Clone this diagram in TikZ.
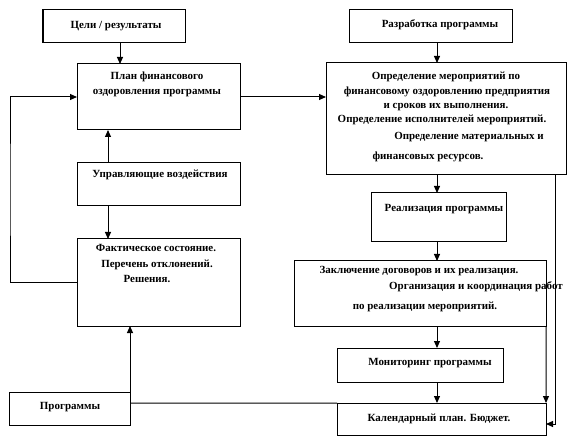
\documentclass[tikz,border=0pt]{standalone}
\usepackage{fontspec}
\setmainfont{Liberation Serif}[BoldFont={Liberation Serif Bold}]
\usetikzlibrary{arrows.meta}
\begin{document}
\begin{tikzpicture}[x=1bp,y=-1bp,
  box/.style={draw,line width=1bp,inner sep=0pt,outer sep=0pt},
  txt/.style={font=\fontsize{11}{13}\selectfont\bfseries,inner sep=0pt,anchor=base},
  arr/.style={line width=1bp,-{Triangle[length=7bp,width=6bp]}},
  ln/.style={line width=1bp}]
\useasboundingbox (0,0) rectangle (570,439);
% boxes
\node[box,minimum width=142bp,minimum height=33bp] (goal) at (114,26.5) {};
\node[box,minimum width=163bp,minimum height=66bp] (plan) at (158.5,97) {};
\node[box,minimum width=163bp,minimum height=43bp] (upr) at (158.5,184.5) {};
\node[box,minimum width=163bp,minimum height=87bp] (fact) at (158.5,282.5) {};
\node[box,minimum width=120bp,minimum height=33bp] (prog) at (70,408.5) {};
\node[box,minimum width=163bp,minimum height=33bp] (razr) at (430.5,26.5) {};
\node[box,minimum width=240bp,minimum height=112bp] (opr) at (446,119) {};
\node[box,minimum width=135bp,minimum height=49bp] (real) at (438.5,217.5) {};
\node[box,minimum width=252bp,minimum height=65bp] (zakl) at (420,293.5) {};
\node[box,minimum width=166bp,minimum height=34bp] (mon) at (420,365) {};
\node[box,minimum width=209bp,minimum height=32bp] (kal) at (441.5,419) {};
% texts
\node[txt] (tgoal) at (116,29) {Цели / результаты};
\node[txt] (tplan1) at (157,80) {План финансового};
\node[txt] (tplan2) at (157,95) {оздоровления программы};
\node[txt] (tupr) at (160,178) {Управляющие воздействия};
\node[txt] (tfact1) at (156,252) {Фактическое  состояние.};
\node[txt] (tfact2) at (157,268) {Перечень отклонений.};
\node[txt] (tfact3) at (147,283) {Решения.};
\node[txt] (tprog) at (70,409) {Программы};
\node[txt] (trazr) at (440,28) {Разработка программы};
\node[txt] (topr1) at (446,80) {Определение мероприятий по};
\node[txt] (topr2) at (447,95) {финансовому оздоровлению предприятия};
\node[txt] (topr3) at (446,109) {и сроков их выполнения.};
\node[txt] (topr4) at (442,123) {Определение исполнителей  мероприятий.};
\node[txt] (topr5) at (469,140) {Определение материальных  и};
\node[txt] (topr6) at (428,160) {финансовых ресурсов.};
\node[txt] (treal) at (444,212) {Реализация программы};
\node[txt] (tzakl1) at (419,274) {Заключение  договоров и их реализация.};
\node[txt] (tzakl2) at (476,289) {Организация и координация работ};
\node[txt] (tzakl3) at (425,309) {по реализации мероприятий.};
\node[txt] (tmon) at (430,365) {Мониторинг программы};
\node[txt] (tkal) at (439,421) {Календарный план. Бюджет.};
% helper coordinates
\coordinate (gx) at (120,0);
\coordinate (ux) at (108,0);
\coordinate (cx) at (437,0);
\coordinate (lx) at (10,190);
\coordinate (rx) at (555,424);
\coordinate (py) at (0,403);
% connectors
\draw[arr] (goal.south -| gx) -- (plan.north -| gx);
\draw[arr] (upr.north -| ux) -- (plan.south -| ux);
\draw[arr] (upr.south -| ux) -- (fact.north -| ux);
\draw[arr] (prog.north east) -- (prog.north east |- fact.south);
\draw[arr] (fact.west) -| (lx) |- (plan.west);
\draw[arr] (plan.east) -- (plan.east -| opr.west);
\draw[arr] (razr.south -| cx) -- (opr.north -| cx);
\draw[arr] (opr.south -| cx) -- (real.north -| cx);
\draw[arr] (real.south -| cx) -- (zakl.north -| cx);
\draw[arr] (zakl.south -| cx) -- (mon.north -| cx);
\draw[arr] (mon.south -| cx) -- (kal.north -| cx);
\draw[arr] (zakl.south east) -- (kal.north east);
\draw[arr] (opr.south -| rx) -- (rx) -- (rx -| kal.east);
\draw[ln] (prog.east |- py) -- (kal.north west);
\end{tikzpicture}
\end{document}
